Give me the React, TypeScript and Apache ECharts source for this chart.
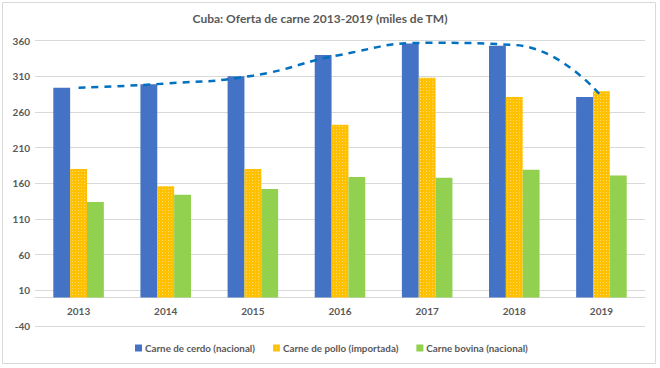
import React, { useEffect, useRef } from "react";
import * as echarts from "echarts";

const title = "Cuba: Oferta de carne 2013-2019 (miles de TM)";
const years = ["2013", "2014", "2015", "2016", "2017", "2018", "2019"];
const cerdo = [294, 299, 310, 340, 356, 353, 281];
const pollo = [180, 156, 180, 242, 308, 281, 289];
const bovina = [134, 144, 152, 169, 168, 179, 171];
const trend = [294, 300, 311, 340, 357, 354, 282];
const seriesNames = [
  "Carne de cerdo (nacional)",
  "Carne de pollo (importada)",
  "Carne bovina (nacional)",
];
const yMin = -40;
const yMax = 360;
const yStep = 50;

const FONT = "Lato, 'Open Sans', sans-serif";
const TXT = "#595959";

export default function App() {
  const ref = useRef<HTMLDivElement>(null);
  useEffect(() => {
    if (!ref.current) return;
    const chart = echarts.init(ref.current, null, { renderer: "svg" });
    const gridTop = 40.7;
    const gridBottom = 42;
    const plotH = 368 - gridTop - gridBottom;
    const zeroOffset = -(plotH * (0 - yMin)) / (yMax - yMin);
    chart.setOption({
      animation: false,
      backgroundColor: "#ffffff",
      textStyle: { fontFamily: FONT },
      title: {
        text: title,
        left: 315,
        textAlign: "center",
        top: 7,
        textStyle: { fontFamily: FONT, fontSize: 12, fontWeight: "bold", color: TXT },
      },
      legend: {
        data: seriesNames,
        bottom: 10,
        left: 130,
        itemWidth: 7,
        itemHeight: 7,
        itemGap: 18,
        icon: "rect",
        textStyle: { fontFamily: FONT, fontSize: 9.8, fontWeight: "bold", color: TXT, padding: [0, 0, 0, -2] },
      },
      grid: { left: 35, right: 15, top: gridTop, bottom: gridBottom, containLabel: false },
      xAxis: {
        type: "category",
        data: years,
        offset: zeroOffset,
        axisLine: { onZero: false, lineStyle: { color: "#D9D9D9", width: 1 } },
        axisTick: { show: false },
        axisLabel: { fontFamily: FONT, fontSize: 10, fontWeight: "bold", color: TXT, margin: 9 },
      },
      yAxis: {
        type: "value",
        min: yMin,
        max: yMax,
        interval: yStep,
        axisLine: { show: false },
        axisTick: { show: false },
        splitLine: { lineStyle: { color: "#D9D9D9", width: 1 } },
        axisLabel: { fontFamily: FONT, fontSize: 10, fontWeight: "bold", color: TXT, margin: 5 },
      },
      series: [
        {
          name: seriesNames[0],
          type: "bar",
          data: cerdo,
          barGap: "0%",
          barCategoryGap: "42%",
          itemStyle: { color: "#4472C4" },
        },
        {
          name: seriesNames[1],
          type: "bar",
          data: pollo,
          itemStyle: {
            color: "#FFC000",
            decal: {
              symbol: "rect",
              symbolSize: 1,
              color: "rgba(255,255,255,0.45)",
              dashArrayX: [1, 2],
              dashArrayY: [1, 2],
              rotation: 0,
            },
          },
        },
        {
          name: seriesNames[2],
          type: "bar",
          data: bovina,
          itemStyle: { color: "#92D050" },
        },
        {
          name: "Tendencia",
          type: "line",
          data: trend,
          smooth: 0.5,
          symbol: "none",
          z: 5,
          lineStyle: { color: "#0070C0", width: 2.5, type: [7, 6] },
        },
      ],
      graphic: [
        {
          type: "rect",
          shape: { x: 2.5, y: 2.5, width: 653, height: 361 },
          style: { fill: "none", stroke: "#D9D9D9", lineWidth: 1 },
          silent: true,
        },
      ],
    });
    return () => chart.dispose();
  }, []);
  return (
    <div
      ref={ref}
      style={{ position: "fixed", left: 0, top: 0, width: 660, height: 368 }}
    />
  );
}
